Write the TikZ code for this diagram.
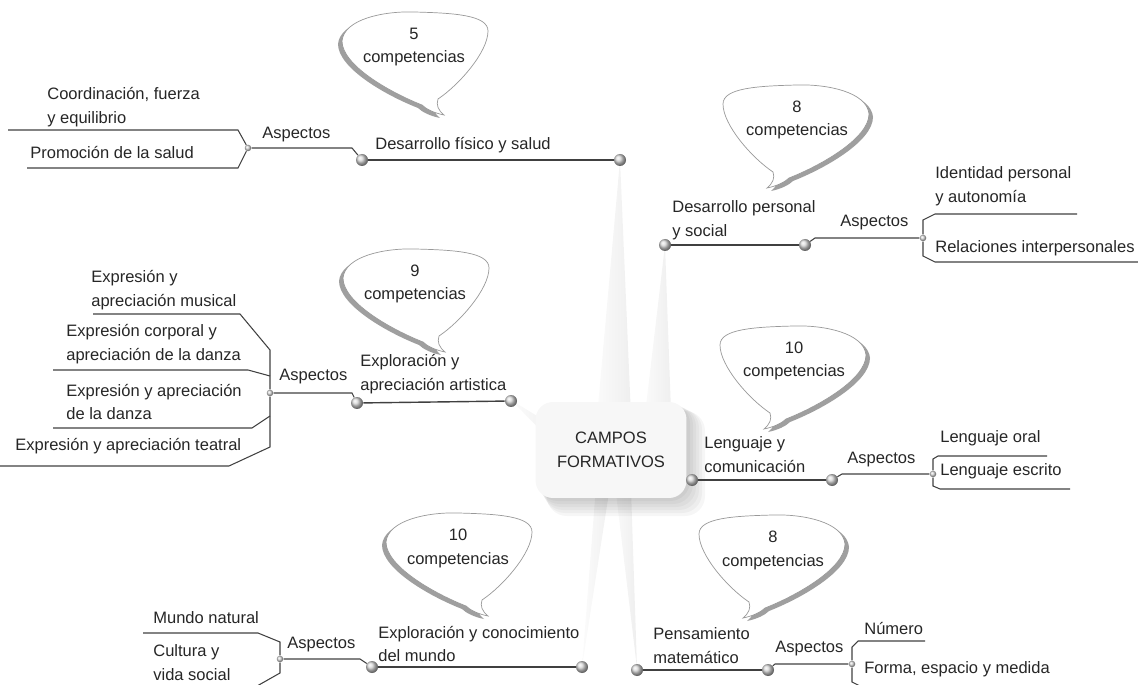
\documentclass[tikz,border=0pt]{standalone}
\usepackage{fontspec}
\setmainfont{Liberation Sans}
\usetikzlibrary{shadows}

\tikzset{
  bubble/.pic={
    \begin{scope}[shift={(-4,3)}]
      \fill[gray!75] (-72,-6) .. controls (-70,-28) and (-30,-36) .. (0,-35)
        .. controls (40,-34) and (74,-32) .. (74,-16)
        .. controls (74,5) and (45,38) .. (24,52)
        .. controls (22,58) and (24,63) .. (30,68)
        .. controls (20,66) and (12,62) .. (8,58)
        .. controls (-25,45) and (-72,18) .. (-72,-6) -- cycle;
    \end{scope}
    \filldraw[fill=white, draw=gray!80, line width=0.4pt] (-72,-6) .. controls (-70,-28) and (-30,-36) .. (0,-35)
      .. controls (40,-34) and (74,-32) .. (74,-16)
      .. controls (74,5) and (45,38) .. (24,52)
      .. controls (22,58) and (24,63) .. (30,68)
      .. controls (20,66) and (12,62) .. (8,58)
      .. controls (-25,45) and (-72,18) .. (-72,-6) -- cycle;
  }
}

\begin{document}
\begin{tikzpicture}[x=0.02cm, y=-0.02cm,
  lbl/.style={inner sep=0pt, align=left, text=black!85, font=\fontsize{9.4}{13.6}\selectfont},
  bubtxt/.style={lbl, align=center},
  ball/.style={circle, inner sep=0pt, minimum size=0.24cm, ball color=gray!30},
  sball/.style={ball, minimum size=0.13cm},
  mline/.style={draw=black!75, line width=0.8pt},
  aline/.style={draw=black!75, line width=0.6pt},
  ray/.style={left color=gray!3, right color=gray!13},
  camp/.style={lbl, align=center, rounded corners=0.35cm, fill=gray!6, minimum width=3.02cm, minimum height=1.92cm}]
 \useasboundingbox (0,0) rectangle (1138,685);

 % rays from the centre
 \shade[ray] (620,160) -- (595,440) -- (632,440) -- cycle;
 \shade[ray] (665,245) -- (642,440) -- (672,440) -- cycle;
 \shade[ray] (511,400) -- (560,430) -- (560,450) -- cycle;
 \shade[ray] (582,667) -- (598,460) -- (614,460) -- cycle;
 \shade[ray] (637,668) -- (612,460) -- (630,460) -- cycle;

 % centre
 \foreach \s in {3,6,...,18}
  \fill[black, opacity=0.035, rounded corners=0.4cm] (536+\s*0.6,402+\s*0.5) rectangle (687+\s,498+\s);
 \node[camp] (cf) at (611,450) {CAMPOS\\FORMATIVOS};

 % Desarrollo fisico y salud
 \pic at (414,47) {bubble};
 \node[bubtxt] (b5) at (414,47) {5\\competencias};
 \node[ball] (fis-r) at (620,160) {};
 \node[ball] (fis-l) at (362,160) {};
 \draw[mline] (fis-l) -- (fis-r);
 \node[lbl, anchor=west] (fis) at (375,145) {Desarrollo físico y salud};
 \node[sball] (fis-a) at (248,148) {};
 \draw[aline] (fis-a) -- (352,148) -- (fis-l);
 \node[lbl, anchor=west] (fis-asp) at (262,135) {Aspectos};
 \coordinate (fis-e1) at (8,130);
 \coordinate (fis-e2) at (27,168);
 \draw[aline] (fis-a) -- (238,130) -- (fis-e1);
 \draw[aline] (fis-a) -- (238,168) -- (fis-e2);
 \node[lbl, anchor=west] (fis-1) at (47,107) {Coordinación, fuerza\\y equilibrio};
 \node[lbl, anchor=west] (fis-2) at (30,153) {Promoción de la salud};

 % Desarrollo personal y social
 \pic[xscale=-1] at (797,120) {bubble};
 \node[bubtxt] (b8a) at (797,120) {8\\competencias};
 \node[ball] (per-l) at (665,245) {};
 \node[ball] (per-r) at (805,245) {};
 \draw[mline] (per-l) -- (per-r);
 \node[lbl, anchor=west] (per) at (672,220) {Desarrollo personal\\y social};
 \node[sball] (per-a) at (923,238) {};
 \draw[aline] (per-r) -- (815,238) -- (per-a);
 \node[lbl, anchor=west] (per-asp) at (840,223) {Aspectos};
 \coordinate (per-e1) at (1077,214);
 \coordinate (per-e2) at (1138,262);
 \draw[aline] (per-a) -- (923,220) -- (935,214) -- (per-e1);
 \draw[aline] (per-a) -- (923,256) -- (935,262) -- (per-e2);
 \node[lbl, anchor=west] (per-1) at (935,186) {Identidad personal\\y autonomía};
 \node[lbl, anchor=west] (per-2) at (935,248) {Relaciones interpersonales};

 % Exploracion y apreciacion artistica
 \pic at (415,284) {bubble};
 \node[bubtxt] (b9) at (415,284) {9\\competencias};
 \node[ball] (art-r) at (511,401) {};
 \node[ball] (art-l) at (357,403) {};
 \draw[mline] (art-l) -- (art-r);
 \node[lbl, anchor=west] (art) at (360,374) {Exploración y\\apreciación artistica};
 \node[sball] (art-a) at (270,393) {};
 \draw[aline] (art-a) -- (352,393) -- (art-l);
 \node[lbl, anchor=west] (art-asp) at (279,377) {Aspectos};
 \coordinate (art-b2) at (270,376);
 \coordinate (art-b3) at (270,416);
 \coordinate (art-e1) at (93,314);
 \coordinate (art-e2) at (53,370);
 \coordinate (art-e3) at (53,428);
 \coordinate (art-e4) at (0,466);
 \draw[aline] (art-a) -- (270,350) -- (240,314) -- (art-e1);
 \draw[aline] (art-a) -- (270,447) -- (229,466) -- (art-e4);
 \draw[aline] (art-b2) -- (248,370) -- (art-e2);
 \draw[aline] (art-b3) -- (252,428) -- (art-e3);
 \node[lbl, anchor=west] (art-1) at (91,290) {Expresión y\\apreciación musical};
 \node[lbl, anchor=west] (art-2) at (66,344) {Expresión corporal y\\apreciación de la danza};
 \node[lbl, anchor=west] (art-3) at (66,402) {Expresión y apreciación\\de la danza};
 \node[lbl, anchor=west] (art-4) at (15,446) {Expresión y apreciación teatral};

 % Lenguaje y comunicacion
 \pic[xscale=-1] at (794,361) {bubble};
 \node[bubtxt] (b10a) at (794,361) {10\\competencias};
 \node[ball] (len-l) at (692,480) {};
 \node[ball] (len-r) at (832,480) {};
 \draw[mline] (len-l) -- (len-r);
 \node[lbl, anchor=west] (len) at (704,455) {Lenguaje y\\comunicación};
 \node[sball] (len-a) at (933,474) {};
 \draw[aline] (len-r) -- (842,474) -- (len-a);
 \node[lbl, anchor=west] (len-asp) at (847,460) {Aspectos};
 \coordinate (len-e1) at (1047,456);
 \coordinate (len-e2) at (1070,489);
 \draw[aline] (len-a) -- (933,459) -- (938,456) -- (len-e1);
 \draw[aline] (len-a) -- (933,486) -- (940,489) -- (len-e2);
 \node[lbl, anchor=west] (len-1) at (940,438) {Lenguaje oral};
 \node[lbl, anchor=west] (len-2) at (940,471) {Lenguaje escrito};

 % Pensamiento matematico
 \pic[xscale=-1] at (773,550) {bubble};
 \node[bubtxt] (b8b) at (773,550) {8\\competencias};
 \node[ball] (mat-l) at (637,670) {};
 \node[ball] (mat-r) at (768,670) {};
 \draw[mline] (mat-l) -- (mat-r);
 \node[lbl, anchor=west] (mat) at (653,646) {Pensamiento\\matemático};
 \node[sball] (mat-a) at (852,664) {};
 \draw[aline] (mat-r) -- (775,664) -- (mat-a);
 \node[lbl, anchor=west] (mat-asp) at (775,649) {Aspectos};
 \coordinate (mat-e1) at (925,641);
 \coordinate (mat-e2) at (1030,686);
 \draw[aline] (mat-a) -- (852,647) -- (858,641) -- (mat-e1);
 \draw[aline] (mat-a) -- (852,682) -- (860,686) -- (mat-e2);
 \node[lbl, anchor=west] (mat-1) at (864,628) {Número};
 \node[lbl, anchor=west] (mat-2) at (864,669) {Forma, espacio y medida};

 % Exploracion y conocimiento del mundo
 \pic at (458,548) {bubble};
 \node[bubtxt] (b10b) at (458,548) {10\\competencias};
 \node[ball] (mun-r) at (582,667) {};
 \node[ball] (mun-l) at (372,667) {};
 \draw[mline] (mun-l) -- (mun-r);
 \node[lbl, anchor=west] (mun) at (378,644) {Exploración y conocimiento\\del mundo};
 \node[sball] (mun-a) at (280,659) {};
 \draw[aline] (mun-a) -- (360,659) -- (mun-l);
 \node[lbl, anchor=west] (mun-asp) at (287,645) {Aspectos};
 \coordinate (mun-e1) at (143,633);
 \coordinate (mun-e2) at (250,690);
 \draw[aline] (mun-a) -- (280,642) -- (258,633) -- (mun-e1);
 \draw[aline] (mun-a) -- (280,673) -- (mun-e2);
 \node[lbl, anchor=west] (mun-1) at (153,618) {Mundo natural};
 \node[lbl, anchor=west] (mun-2) at (153,663) {Cultura y\\vida social};
\end{tikzpicture}
\end{document}
